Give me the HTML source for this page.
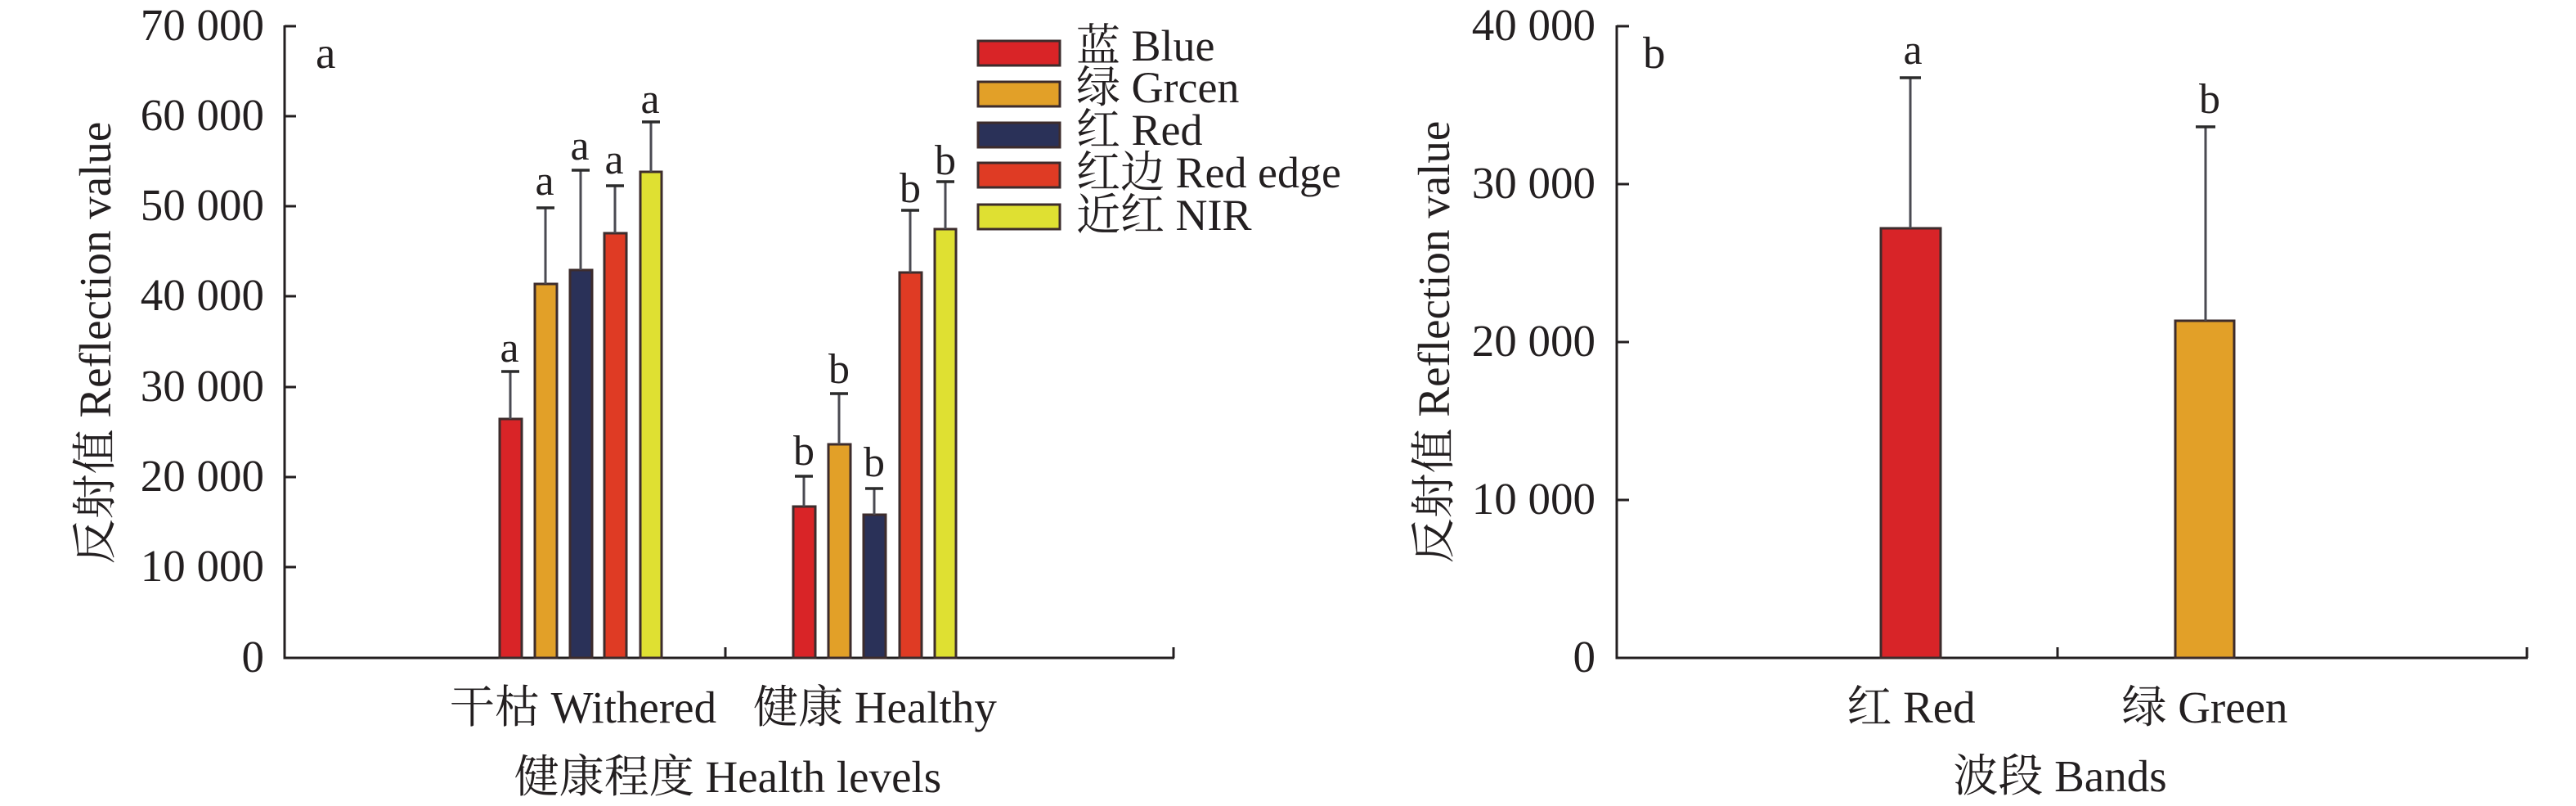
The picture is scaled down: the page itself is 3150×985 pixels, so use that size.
<!DOCTYPE html>
<html>
<head>
<meta charset="utf-8">
<style>
  html,body{margin:0;padding:0;background:#fff;}
  svg{display:block;}
  text{font-family:"Liberation Serif","Noto Serif CJK SC",serif;fill:#231f20;}
</style>
</head>
<body>
<svg width="3150" height="985" viewBox="0 0 3150 985" xmlns="http://www.w3.org/2000/svg">
  <rect x="0" y="0" width="3150" height="985" fill="#fff"/>

  <!-- ================= LEFT CHART ================= -->
  <g stroke="#231f20" stroke-width="3" fill="none">
    <line x1="348" y1="31" x2="348" y2="805.5"/>
    <line x1="346.5" y1="804" x2="1436" y2="804"/>
    <line x1="348" y1="32" x2="362" y2="32"/>
    <line x1="348" y1="142" x2="362" y2="142"/>
    <line x1="348" y1="252" x2="362" y2="252"/>
    <line x1="348" y1="362" x2="362" y2="362"/>
    <line x1="348" y1="473" x2="362" y2="473"/>
    <line x1="348" y1="583" x2="362" y2="583"/>
    <line x1="348" y1="693" x2="362" y2="693"/>
    <line x1="887" y1="804" x2="887" y2="791"/>
    <line x1="1435" y1="804" x2="1435" y2="791"/>
  </g>
  <g font-size="55" text-anchor="end">
    <text x="323" y="49">70 000</text>
    <text x="323" y="159">60 000</text>
    <text x="323" y="269">50 000</text>
    <text x="323" y="379">40 000</text>
    <text x="323" y="490">30 000</text>
    <text x="323" y="600">20 000</text>
    <text x="323" y="710">10 000</text>
    <text x="323" y="821">0</text>
  </g>
  <text font-size="55" text-anchor="middle" transform="translate(135,419) rotate(-90)">反射值 Reflection value</text>
  <text x="386" y="83" font-size="55">a</text>

  <g stroke="#3d2c2c" stroke-width="3">
    <rect x="611" y="512" width="27" height="292" fill="#d92427"/>
    <rect x="654" y="347" width="27" height="457" fill="#e2a028"/>
    <rect x="697" y="330" width="27" height="474" fill="#2a3158"/>
    <rect x="739" y="285" width="27" height="519" fill="#df3b24"/>
    <rect x="783" y="210" width="26" height="594" fill="#dfe032"/>
    <rect x="970" y="619" width="27" height="185" fill="#d92427"/>
    <rect x="1013" y="543" width="27" height="261" fill="#e2a028"/>
    <rect x="1056" y="629" width="27" height="175" fill="#2a3158"/>
    <rect x="1100" y="333" width="27" height="471" fill="#df3b24"/>
    <rect x="1143" y="280" width="26" height="524" fill="#dfe032"/>
  </g>
  <g stroke="#4a4a52" stroke-width="3">
    <line x1="624" y1="512" x2="624" y2="454"/>
    <line x1="667" y1="347" x2="667" y2="254"/>
    <line x1="710" y1="330" x2="710" y2="208"/>
    <line x1="752" y1="285" x2="752" y2="227"/>
    <line x1="796" y1="210" x2="796" y2="149"/>
    <line x1="983" y1="619" x2="983" y2="582"/>
    <line x1="1026" y1="543" x2="1026" y2="481"/>
    <line x1="1069" y1="629" x2="1069" y2="597"/>
    <line x1="1113" y1="333" x2="1113" y2="257"/>
    <line x1="1156" y1="280" x2="1156" y2="222"/>
  </g>
  <g stroke="#2b2b2b" stroke-width="3.5">
    <line x1="613" y1="454" x2="635" y2="454"/>
    <line x1="656" y1="254" x2="678" y2="254"/>
    <line x1="699" y1="208" x2="721" y2="208"/>
    <line x1="741" y1="227" x2="763" y2="227"/>
    <line x1="785" y1="149" x2="807" y2="149"/>
    <line x1="972" y1="582" x2="994" y2="582"/>
    <line x1="1015" y1="481" x2="1037" y2="481"/>
    <line x1="1058" y1="597" x2="1080" y2="597"/>
    <line x1="1102" y1="257" x2="1124" y2="257"/>
    <line x1="1145" y1="222" x2="1167" y2="222"/>
  </g>
  <g font-size="52" text-anchor="middle">
    <text x="623" y="442">a</text>
    <text x="666" y="238">a</text>
    <text x="709" y="195">a</text>
    <text x="751" y="212">a</text>
    <text x="795" y="138">a</text>
    <text x="983" y="568">b</text>
    <text x="1026" y="468">b</text>
    <text x="1069" y="582">b</text>
    <text x="1113" y="247">b</text>
    <text x="1156" y="213">b</text>
  </g>

  <g stroke="#3d2c2c" stroke-width="3">
    <rect x="1196" y="50" width="100" height="30" fill="#d92427"/>
    <rect x="1196" y="100" width="100" height="30" fill="#e2a028"/>
    <rect x="1196" y="150" width="100" height="30" fill="#2a3158"/>
    <rect x="1196" y="199" width="100" height="30" fill="#df3b24"/>
    <rect x="1196" y="250" width="100" height="30" fill="#dfe032"/>
  </g>
  <g font-size="54">
    <text x="1316" y="74">蓝 Blue</text>
    <text x="1316" y="125">绿 Grcen</text>
    <text x="1316" y="177">红 Red</text>
    <text x="1316" y="229">红边 Red edge</text>
    <text x="1316" y="281">近红 NIR</text>
  </g>

  <g font-size="55" text-anchor="middle">
    <text x="713" y="883">干枯 Withered</text>
    <text x="1070" y="883">健康 Healthy</text>
    <text x="890" y="968">健康程度 Health levels</text>
  </g>

  <!-- ================= RIGHT CHART ================= -->
  <g stroke="#231f20" stroke-width="3" fill="none">
    <line x1="1977" y1="31" x2="1977" y2="805.5"/>
    <line x1="1975.5" y1="804" x2="3091" y2="804"/>
    <line x1="1977" y1="32" x2="1992" y2="32"/>
    <line x1="1977" y1="225" x2="1992" y2="225"/>
    <line x1="1977" y1="418" x2="1992" y2="418"/>
    <line x1="1977" y1="611" x2="1992" y2="611"/>
    <line x1="2516" y1="804" x2="2516" y2="791"/>
    <line x1="3090" y1="804" x2="3090" y2="791"/>
  </g>
  <g font-size="55" text-anchor="end">
    <text x="1951" y="49">40 000</text>
    <text x="1951" y="242">30 000</text>
    <text x="1951" y="435">20 000</text>
    <text x="1951" y="628">10 000</text>
    <text x="1951" y="821">0</text>
  </g>
  <text font-size="55" text-anchor="middle" transform="translate(1772,418) rotate(-90)">反射值 Reflection value</text>
  <text x="2009" y="83" font-size="55">b</text>

  <g stroke="#3d2c2c" stroke-width="3">
    <rect x="2300" y="279" width="73" height="525" fill="#d82428"/>
    <rect x="2660" y="392" width="72" height="412" fill="#e2a028"/>
  </g>
  <g stroke="#4a4a52" stroke-width="3">
    <line x1="2336" y1="279" x2="2336" y2="95"/>
    <line x1="2697" y1="392" x2="2697" y2="155"/>
  </g>
  <g stroke="#2b2b2b" stroke-width="3.5">
    <line x1="2323" y1="95" x2="2349" y2="95"/>
    <line x1="2685" y1="155" x2="2709" y2="155"/>
  </g>
  <g font-size="52" text-anchor="middle">
    <text x="2339" y="78">a</text>
    <text x="2702" y="138">b</text>
  </g>

  <g font-size="55" text-anchor="middle">
    <text x="2337" y="883">红 Red</text>
    <text x="2696" y="883">绿 Green</text>
    <text x="2519" y="967">波段 Bands</text>
  </g>
</svg>
</body>
</html>
